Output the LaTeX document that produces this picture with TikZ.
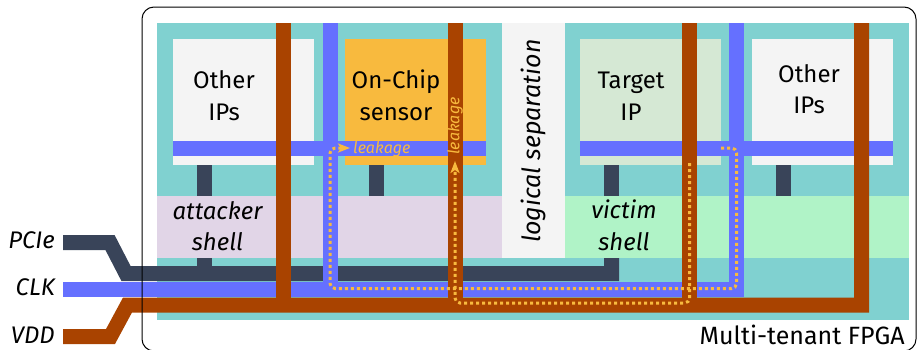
\documentclass[tikz,border=0pt]{standalone}
\usepackage{fontspec}
\setmainfont{Fira Sans}
\usepackage{tikz}
\usetikzlibrary{arrows.meta}
\definecolor{fpgateal}{HTML}{80D1D0}
\definecolor{sepgray}{HTML}{F4F4F4}
\definecolor{sensororange}{HTML}{F8BA3E}
\definecolor{targetgreen}{HTML}{D5E8D4}
\definecolor{attackerlilac}{HTML}{E1D5E7}
\definecolor{victimgreen}{HTML}{B0F3C7}
\definecolor{clkblue}{HTML}{6570FF}
\definecolor{pciedark}{HTML}{394459}
\definecolor{vddbrown}{HTML}{A94300}

\begin{document}
\begin{tikzpicture}[x=1pt,y=-1pt,>=Stealth,
    pcieline/.style={line width=15pt,pciedark},
    clkline/.style={line width=15pt,clkblue},
    vddline/.style={line width=15pt,vddbrown},
    leak/.style={line width=3pt,sensororange,dash pattern=on 3pt off 3pt,rounded corners=5pt},
    leaktip/.style={-{Stealth[length=12pt,width=9pt,inset=3pt]}},
    iptext/.style={font=\fontsize{24}{30}\selectfont,anchor=base,inner sep=0pt},
    shelltext/.style={iptext,font=\fontsize{24}{30}\selectfont\itshape},
    leaktext/.style={font=\fontsize{16}{18}\selectfont\itshape,text=sensororange,inner sep=0pt}]
    \useasboundingbox (0,0) rectangle (917,349);
    \fill[fpgateal] (157,23) rectangle (909,320);
    \fill[sepgray] (502,23) rectangle (565,258);
    \fill[attackerlilac] (157,196) rectangle (502,258);
    \fill[victimgreen] (565,196) rectangle (909,258);
    \draw[pcieline] (204.5,160) -- (204.5,196);
    \draw[pcieline] (376.5,160) -- (376.5,196);
    \draw[pcieline] (611.5,160) -- (611.5,196);
    \draw[pcieline] (783.5,160) -- (783.5,196);
    \draw[pcieline] (204.5,258) -- (204.5,273.5);
    \fill[sepgray] (173,39) rectangle (314,165);
    \fill[sensororange] (345,39) rectangle (486,165);
    \fill[targetgreen] (580,39) rectangle (721,165);
    \fill[sepgray] (752,39) rectangle (893,165);
    \draw[clkline] (173,148.5) -- (486,148.5);
    \draw[clkline] (580,148.5) -- (893,148.5);
    \draw[pcieline] (63,242.5) -- (110,242.5) -- (126,273.5) -- (611.5,273.5) -- (611.5,258);
    \draw[clkline] (330,23) -- (330,289.5);
    \draw[clkline] (63,289.5) -- (736.5,289.5) -- (736.5,23);
    \draw[vddline] (283,23) -- (283,305);
    \draw[vddline] (455,23) -- (455,305);
    \draw[vddline] (689.5,23) -- (689.5,305);
    \draw[vddline] (63,336.5) -- (110.5,336.5) -- (127.5,305) -- (861.5,305) -- (861.5,23);
    \draw[leak,leaktip] (721,148) -- (736.5,148) -- (736.5,288.5) -- (330,288.5) -- (330,148) -- (350,148);
    \draw[leak,leaktip] (689.5,163) -- (689.5,303) -- (455,303) -- (455,161);
    \node[leaktext,anchor=base west] (leakclk) at (353,153) {leakage};
    \node[leaktext,rotate=90] (leakvdd) at (455,126) {leakage};
    \node[iptext] (oth1a) at (224,88) {Other};
    \node[iptext] (oth1b) at (224,120) {IPs};
    \node[iptext] (sens1) at (396,88) {On-Chip};
    \node[iptext] (sens2) at (396,120) {sensor};
    \node[iptext] (targ1) at (631,88) {Target};
    \node[iptext] (targ2) at (631,120) {IP};
    \node[iptext] (oth2a) at (809,82) {Other};
    \node[iptext] (oth2b) at (809,113) {IPs};
    \node[shelltext] (att1) at (217.5,219) {attacker};
    \node[shelltext] (att2) at (217.5,250) {shell};
    \node[shelltext] (vic1) at (624,218) {victim};
    \node[shelltext] (vic2) at (624,250) {shell};
    \node[shelltext,anchor=center,rotate=90,font=\fontsize{25}{30}\selectfont\itshape] (logsep) at (533,141) {logical separation};
    \node[shelltext,anchor=base east] (pcie) at (55,248) {PCIe};
    \node[shelltext,anchor=base east] (clk) at (55,295) {CLK};
    \node[shelltext,anchor=base east] (vdd) at (55,343) {VDD};
    \node[iptext,anchor=base east,font=\fontsize{25}{30}\selectfont] (fpga) at (905,344) {Multi-tenant FPGA};
    \draw[line width=1pt,rounded corners=12pt] (142,7) rectangle (916,351);
\end{tikzpicture}
\end{document}
